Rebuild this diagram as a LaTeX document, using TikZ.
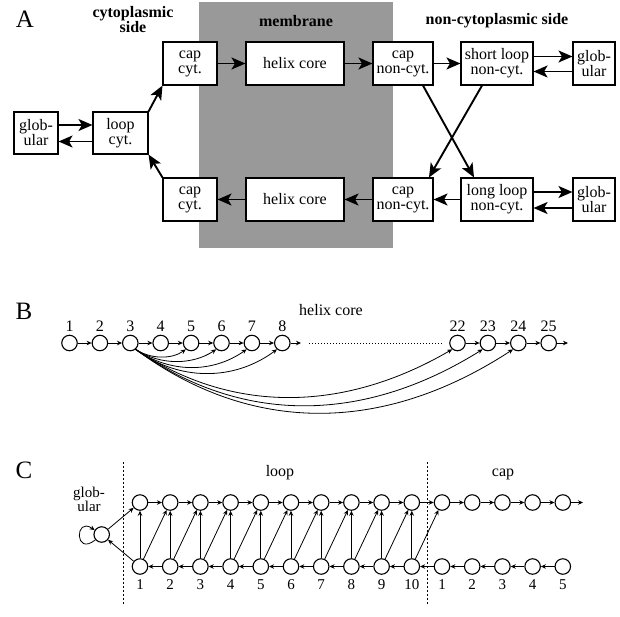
\documentclass[tikz,border=0pt]{standalone}
\usepackage{fontspec}
\setmainfont{Liberation Serif}
\usetikzlibrary{arrows.meta}
\definecolor{memgray}{RGB}{153,153,153}
\begin{document}
\begin{tikzpicture}[x=1pt,y=-1pt,
  box/.style={draw, line width=1.1pt, fill=white, align=center, inner sep=0pt,
    minimum height=43pt, font=\fontsize{16}{15}\selectfont},
  hdr/.style={align=center, inner sep=0pt, font=\fontsize{16}{15}\selectfont\bfseries},
  big/.style={line width=1.9pt, -{Stealth[length=14pt,width=12pt,inset=3.5pt]}},
  circ/.style={circle, draw, line width=1.1pt, minimum size=15.5pt, inner sep=0pt},
  sarr/.style={line width=0.8pt, -{Stealth[length=5pt,width=4.5pt]}},
  numB/.style={font=\fontsize{16}{16}\selectfont, inner sep=0pt},
  numC/.style={font=\fontsize{15}{15}\selectfont, inner sep=0pt},
  lbl/.style={font=\fontsize{16}{16}\selectfont, inner sep=0pt},
  panel/.style={font=\fontsize{25}{25}\selectfont, inner sep=0pt},
  sep/.style={line width=0.7pt, dash pattern=on 2pt off 2pt},
]
\useasboundingbox (0,0) rectangle (620,616);

% ---------------- Panel A ----------------
\fill[memgray] (199,2) rectangle (393,248);
\node[panel] (lA) at (25,19) {A};
\node[hdr] (hcyt) at (133,20) {cytoplasmic\\side};
\node[hdr] (hmem) at (296,21) {membrane};
\node[hdr] (hnon) at (497,21) {non-cytoplasmic side};

\node[box, minimum width=44pt, minimum height=42pt] (globL) at (36,133) {glob-\\ular};
\node[box, minimum width=55pt, minimum height=42pt] (loopC) at (120.5,133) {loop\\cyt.};
\node[box, minimum width=54pt] (capT) at (190,63.5) {cap\\cyt.};
\node[box, minimum width=54pt] (capB) at (190,199.5) {cap\\cyt.};
\node[box, minimum width=98pt] (helT) at (295,63.5) {helix core};
\node[box, minimum width=98pt] (helB) at (295,199.5) {helix core};
\node[box, minimum width=60pt] (capNT) at (403,63.5) {cap\\non-cyt.};
\node[box, minimum width=60pt] (capNB) at (403,199.5) {cap\\non-cyt.};
\node[box, minimum width=72pt] (shortL) at (497,63.5) {short loop\\non-cyt.};
\node[box, minimum width=72pt] (longL) at (497,199.5) {long loop\\non-cyt.};
\node[box, minimum width=42pt] (globRT) at (594,63.5) {glob-\\ular};
\node[box, minimum width=42pt] (globRB) at (594,199.5) {glob-\\ular};

\draw[big] (globL.east |- 0,125) -- (loopC.west |- 0,125);
\draw[big] (loopC.west |- 0,141.5) -- (globL.east |- 0,141.5);
\draw[big] (loopC.north east) -- (capT.south west);
\draw[big] (capB.north west) -- (loopC.south east);
\draw[big] (capT) -- (helT);
\draw[big] (helT) -- (capNT);
\draw[big] (capNT) -- (shortL);
\draw[big] (shortL.east |- 0,56.5) -- (globRT.west |- 0,56.5);
\draw[big] (globRT.west |- 0,71.5) -- (shortL.east |- 0,71.5);
\draw[big] (longL.east |- 0,192) -- (globRB.west |- 0,192);
\draw[big] (globRB.west |- 0,208) -- (longL.east |- 0,208);
\draw[big] (longL) -- (capNB);
\draw[big] (capNB) -- (helB);
\draw[big] (helB) -- (capB);
\draw[big] (capNT.south -| 423,0) -- (longL.north -| 474,0);
\draw[big] (shortL.south -| 482,0) -- (capNB.north -| 429,0);

% ---------------- Panel B ----------------
\node[panel] (lB) at (24,311) {B};
\node[lbl] (hcore) at (331,310) {helix core};
\foreach \i/\x in {1/69.5,2/99.9,3/130.3,4/160.7,5/191.1,6/221.5,7/251.9,8/282.3,
                   22/457.5,23/487.9,24/518.3,25/548.7}{
  \node[circ] (b\i) at (\x,343) {};
  \node[numB] (nb\i) at (\x,326) {\i};
}
\foreach \i/\j in {1/2,2/3,3/4,4/5,5/6,6/7,7/8,22/23,23/24,24/25}
  \draw[sarr] (b\i) -- (b\j);
\coordinate (e8) at (301,343);
\coordinate (e25) at (568,343);
\coordinate (dotL) at (309,343);
\coordinate (dotR) at (442,343);
\draw[sarr] (b8) -- (e8);
\draw[sarr] (b25) -- (e25);
\draw[line width=0.8pt, dash pattern=on 0.8pt off 2.2pt] (dotL) -- (dotR);
\draw[sarr] (b3.-50) .. controls +(15,10) and +(-14,10) .. (b5.-130);
\draw[sarr] (b3.-50) .. controls +(24,16) and +(-24,16) .. (b6.-130);
\draw[sarr] (b3.-50) .. controls +(34,24) and +(-34,24) .. (b7.-130);
\draw[sarr] (b3.-50) .. controls +(43,32) and +(-43,32) .. (b8.-130);
\draw[sarr] (b3.-50) .. controls +(95,64) and +(-110,64) .. (b22.-130);
\draw[sarr] (b3.-50) .. controls +(105,75) and +(-120,75) .. (b23.-130);
\draw[sarr] (b3.-50) .. controls +(115,85) and +(-130,85) .. (b24.-130);

% ---------------- Panel C ----------------
\node[panel] (lC) at (24,470) {C};
\coordinate (s1t) at (123,462); \coordinate (s1b) at (123,605);
\coordinate (s2t) at (427,462); \coordinate (s2b) at (427,605);
\draw[sep] (s1t) -- (s1b);
\draw[sep] (s2t) -- (s2b);
\node[lbl] (hloop) at (280,473) {loop};
\node[lbl] (hcap) at (503,474) {cap};
\node[align=center, inner sep=0pt, font=\fontsize{15}{14}\selectfont] (hglob) at (89,499) {glob-\\ular};
\node[circ] (g) at (101.7,534.5) {};
\draw[sarr] (g.220) .. controls +(-21,17) and +(-20,-14) .. (g.148);

\foreach \i in {1,...,10}{
  \node[circ] (t\i) at ({140+30.2*(\i-1)},502.5) {};
  \node[circ] (u\i) at ({140+30.2*(\i-1)},566.5) {};
  \node[numC] (nu\i) at ({140+30.2*(\i-1)},585) {\i};
}
\foreach \i in {1,...,5}{
  \node[circ] (ct\i) at ({442+30.2*(\i-1)},502.5) {};
  \node[circ] (cb\i) at ({442+30.2*(\i-1)},566.5) {};
  \node[numC] (nc\i) at ({442+30.2*(\i-1)},585) {\i};
}
\foreach \i [evaluate=\i as \j using int(\i+1)] in {1,...,9}{
  \draw[sarr] (t\i) -- (t\j);
  \draw[sarr] (u\j) -- (u\i);
  \draw[sarr] (u\i) -- (t\j);
}
\foreach \i in {1,...,10} \draw[sarr] (u\i) -- (t\i);
\draw[sarr] (t10) -- (ct1);
\draw[sarr] (cb1) -- (u10);
\draw[sarr] (u10) -- (ct1);
\foreach \i [evaluate=\i as \j using int(\i+1)] in {1,...,4}{
  \draw[sarr] (ct\i) -- (ct\j);
  \draw[sarr] (cb\j) -- (cb\i);
}
\coordinate (cend) at (583,502.5);
\draw[sarr] (ct5) -- (cend);
\draw[sarr] (g) -- (t1);
\draw[sarr] (u1) -- (g);
\end{tikzpicture}
\end{document}
